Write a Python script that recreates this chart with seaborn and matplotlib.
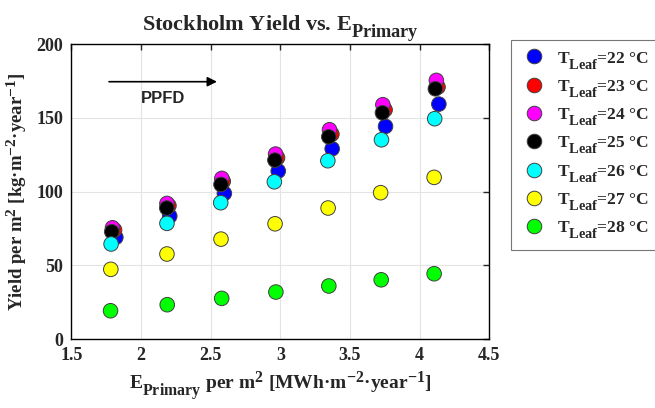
import numpy as np
import pandas as pd
import seaborn as sns
import matplotlib
matplotlib.use("Agg")
import matplotlib.pyplot as plt

# Larger, lower sub/superscripts in mathtext labels
try:
    import matplotlib._mathtext as _mt
    _mt.SHRINK_FACTOR = 0.82
    _mt.FontConstantsBase.sub1 = 0.75
    _mt.FontConstantsBase.subdrop = 0.6
except Exception:
    pass

# Primary energy use (MWh m^-2 yr^-1) and yield (kg m^-2 yr^-1) per leaf temperature
temps = [22, 23, 24, 25, 26, 27, 28]
colors = ["#0000ff", "#ff0000", "#ff00ff", "#000000", "#00ffff", "#ffff00", "#00ff00"]

e_22 = [1.819, 2.206, 2.598, 2.985, 3.372, 3.755, 4.138]
y_22 = [69.0, 83.4, 98.8, 114.0, 129.1, 144.3, 159.4]
e_23 = [1.810, 2.200, 2.590, 2.980, 3.370, 3.752, 4.132]
y_23 = [74.0, 90.5, 107.0, 123.0, 139.0, 155.5, 171.0]
e_24 = [1.795, 2.186, 2.580, 2.966, 3.353, 3.736, 4.120]
y_24 = [75.5, 92.0, 109.0, 125.5, 142.0, 159.0, 175.5]
e_25 = [1.790, 2.185, 2.574, 2.961, 3.348, 3.733, 4.113]
y_25 = [72.8, 88.9, 104.9, 121.4, 137.2, 153.5, 169.8]
e_26 = [1.785, 2.186, 2.572, 2.957, 3.341, 3.726, 4.108]
y_26 = [64.5, 78.5, 92.5, 106.7, 121.0, 135.2, 149.5]
e_27 = [1.783, 2.186, 2.574, 2.962, 3.343, 3.720, 4.104]
y_27 = [47.3, 57.7, 67.8, 78.2, 88.9, 99.3, 109.7]
e_28 = [1.781, 2.188, 2.579, 2.968, 3.348, 3.724, 4.104]
y_28 = [19.2, 23.3, 27.6, 31.9, 36.0, 40.2, 44.3]

x_ticks = [1.5, 2, 2.5, 3, 3.5, 4, 4.5]
x_tick_labels = ["1.5", "2", "2.5", "3", "3.5", "4", "4.5"]
y_ticks = [0, 50, 100, 150, 200]

energy = [e_22, e_23, e_24, e_25, e_26, e_27, e_28]
yields = [y_22, y_23, y_24, y_25, y_26, y_27, y_28]

labels = [r"$\mathregular{T_{Leaf}}$=%d °C" % t for t in temps]
df = pd.concat(
    [pd.DataFrame({"E": e, "Yield": y, "series": lab})
     for e, y, lab in zip(energy, yields, labels)],
    ignore_index=True,
)

sns.set_style("white")
plt.rcParams["font.family"] = ["Liberation Serif", "DejaVu Serif"]
plt.rcParams["font.weight"] = "bold"
plt.rcParams["mathtext.fontset"] = "custom"
plt.rcParams["mathtext.rm"] = "Liberation Serif:bold"
plt.rcParams["mathtext.it"] = "Liberation Serif:bold"
plt.rcParams["mathtext.bf"] = "Liberation Serif:bold"
plt.rcParams["mathtext.default"] = "rm"

fig = plt.figure(figsize=(6.55, 4.08), dpi=100)
ax = fig.add_axes([0.109, 0.169, 0.638, 0.7225])

sns.scatterplot(
    data=df, x="E", y="Yield", hue="series", hue_order=labels,
    palette=dict(zip(labels, colors)), s=110, edgecolor="#404040",
    linewidth=0.7, ax=ax, legend=True, zorder=3,
)

ax.set_xlim(1.5, 4.5)
ax.set_ylim(0, 200)
ax.set_xticks(x_ticks)
ax.set_xticklabels(x_tick_labels)
ax.set_yticks(y_ticks)
ax.grid(True, color="#e3e3e3", linewidth=0.8, zorder=0)
ax.tick_params(direction="in", top=True, right=True, length=4, width=1,
               labelsize=13, pad=6)
for lab in ax.get_xticklabels() + ax.get_yticklabels():
    lab.set_fontweight("bold")
for sp in ax.spines.values():
    sp.set_visible(True)
    sp.set_color("black")
    sp.set_linewidth(1.0)

ax.set_xlabel(r"E$_{\mathregular{Primary}}$ per m$^{\mathregular{2}}$ [MWh·m$^{\mathregular{-2}}$·year$^{\mathregular{-1}}$]",
              fontsize=14, fontweight="bold", labelpad=4)
ax.set_ylabel(r"Yield per m$^{\mathregular{2}}$ [kg·m$^{\mathregular{-2}}$·year$^{\mathregular{-1}}$]",
              fontsize=13.5, fontweight="bold")
ax.yaxis.set_label_coords(-0.102, 0.5)
ax.set_title(r"Stockholm Yield vs. E$_{\mathregular{Primary}}$", fontsize=16,
             fontweight="bold", pad=10)

# PPFD direction arrow
ax.annotate("", xy=(2.545, 174.6), xytext=(1.77, 174.6),
            arrowprops=dict(arrowstyle="-|>", color="black", lw=1.2,
                            mutation_scale=14, shrinkA=0, shrinkB=0))
ax.text(2.16, 163.5, "PPFD", ha="center", va="center", fontsize=12,
        fontweight="bold", family=["Liberation Sans", "DejaVu Sans"])

handles, hlabels = ax.get_legend_handles_labels()
leg = ax.legend(handles, hlabels, loc="upper left",
                bbox_to_anchor=(0.78, 0.902), bbox_transform=fig.transFigure,
                frameon=True, fancybox=False, fontsize=12.5, markerscale=1.0,
                handletextpad=0.5, labelspacing=0.42, borderpad=0.55,
                handlelength=1.6, borderaxespad=0)
leg.get_frame().set_edgecolor("#555555")
leg.get_frame().set_linewidth(0.8)
for t in leg.get_texts():
    t.set_fontweight("bold")

fig.savefig("out.png", dpi=100)
